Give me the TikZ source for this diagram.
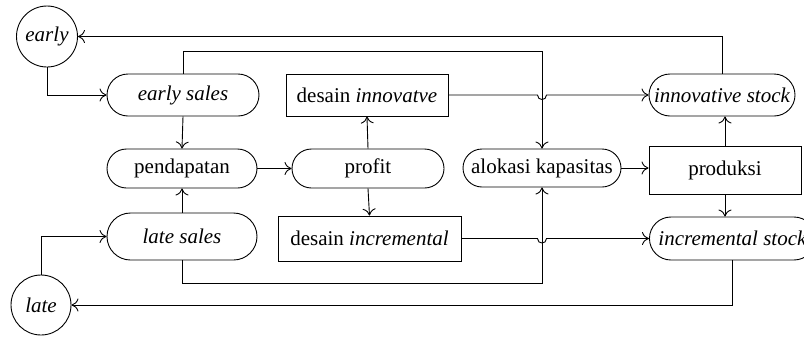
\documentclass[tikz,border=0pt]{standalone}
\usepackage{fontspec}
\setmainfont{Liberation Serif}
\usetikzlibrary{arrows.meta,shapes.misc}
\begin{document}
\begin{tikzpicture}[x=1pt,y=-1pt,
  every node/.style={font=\fontsize{21}{25}\selectfont, inner sep=0pt, line width=0.9pt, draw},
  pill/.style={rounded rectangle},
  boxed/.style={rectangle},
  ring/.style={circle},
  flow/.style={line width=0.9pt, -{Computer Modern Rightarrow[length=7pt,width=13pt]}},
  plain/.style={line width=0.9pt}]
\useasboundingbox (0,0) rectangle (804,338);

% nodes
\node[ring, minimum size=61] (early) at (47,36.5) {\itshape early};
\node[ring, minimum size=60] (late) at (41,305) {\itshape late};
\node[pill, minimum width=152, minimum height=42] (esales) at (183,95) {\itshape early sales};
\node[pill, minimum width=150, minimum height=39] (pend) at (182,168.5) {pendapatan};
\node[pill, minimum width=150, minimum height=47] (lsales) at (182,236.5) {\itshape late sales};
\node[boxed, minimum width=162, minimum height=42] (dinn) at (367,95) {desain \textit{innovatve}};
\node[pill, minimum width=152, minimum height=39] (profit) at (368,168.5) {profit};
\node[boxed, minimum width=183, minimum height=45] (dinc) at (369.5,238.5) {desain \textit{incremental}};
\node[pill, minimum width=158, minimum height=38] (alok) at (542,168) {alokasi kapasitas};
\node[pill, minimum width=146, minimum height=42] (istock) at (722,95) {\itshape innovative stock};
\node[boxed, minimum width=152, minimum height=48] (prod) at (725,170) {produksi};
\node[pill, minimum width=166, minimum height=43, anchor=west] (incstock) at (649,238.5) {\itshape incremental stock};

% connectors
\draw[flow] (early.south) |- (esales.west);
\draw[flow] (late.north) |- (lsales.west);
\draw[flow] (istock.north) |- (early.east);
\draw[flow] (incstock.south) |- (late.east);
\draw[flow] (esales.north) -- ++(0,-22) -| (alok.north);
\draw[flow] (lsales.south) -- ++(0,23) -| (alok.south);
\draw[flow] (esales.south) -- (pend.north);
\draw[flow] (lsales.north) -- (pend.south);
\draw[flow] (pend.east) -- (profit.west);
\draw[flow] (profit.north) -- (dinn.south);
\draw[flow] (profit.south) -- (dinc.north);
\draw[flow] (alok.east) -- (alok.east -| prod.west);
\draw[flow] (prod.north) -- (prod.north |- istock.south);
\draw[flow] (prod.south) -- (prod.south |- incstock.north);

% the two design flows hop over the capacity line
\coordinate (hopa) at (alok.north |- dinn.east);
\coordinate (hopb) at (alok.south |- dinc.east);
\draw[flow] (dinn.east) -- ([xshift=-4.5]hopa)
  .. controls ([xshift=-4.5,yshift=-6]hopa) and ([xshift=4.5,yshift=-6]hopa) .. ([xshift=4.5]hopa)
  -- (istock.west);
\draw[flow] (dinc.east) -- ([xshift=-4.5]hopb)
  .. controls ([xshift=-4.5,yshift=-6]hopb) and ([xshift=4.5,yshift=-6]hopb) .. ([xshift=4.5]hopb)
  -- (incstock.west);
\end{tikzpicture}
\end{document}
